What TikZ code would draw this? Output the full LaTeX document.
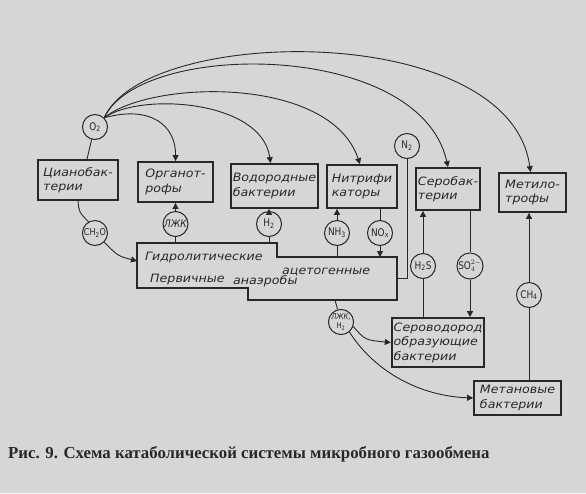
\documentclass[tikz,border=0pt]{standalone}
\usepackage{fontspec}
\usetikzlibrary{arrows.meta}
\newfontfamily\labfont[FakeStretch=1.1]{DejaVu Sans}
\newfontfamily\chemfont[FakeStretch=0.85]{DejaVu Sans}
\newfontfamily\capfont{Liberation Serif}
\definecolor{paper}{RGB}{214,214,214}
\definecolor{inkc}{RGB}{40,40,40}
\begin{document}
\begin{tikzpicture}[x=1pt,y=-1pt,
  ink/.style={draw=inkc, line width=0.9pt},
  box/.style={draw=inkc, line width=1.8pt, rectangle, inner sep=2pt, align=left,
    font=\labfont\itshape\fontsize{11.5}{14.5}\selectfont, text=inkc},
  gas/.style={draw=inkc, line width=1pt, circle, minimum size=25pt, inner sep=0pt,
    font=\chemfont\fontsize{10.5}{11}\selectfont, text=inkc, fill=paper},
  arr/.style={ink, -{Triangle[length=6pt,width=6pt]}},
  htext/.style={anchor=base west, inner sep=0pt, text=inkc,
    font=\labfont\itshape\fontsize{11.5}{14}\selectfont},
]
\path[fill=paper] (0,0) rectangle (586,493);

% boxes
\node[box, minimum width=80pt, minimum height=40pt] (cyano) at (78,180) {Цианобак-\\терии};
\node[box, minimum width=75pt, minimum height=40pt] (org) at (175.5,182) {Органот-\\рофы};
\node[box, minimum width=79pt, minimum height=44pt] (vod) at (274.5,186) {Водородные\\бактерии};
\node[box, minimum width=70pt, minimum height=43pt] (nitr) at (362,186.5) {Нитрифи\\каторы};
\node[box, minimum width=62pt, minimum height=42pt] (serob) at (448,189) {Серобак-\\терии};
\node[box, minimum width=67pt, minimum height=39pt] (metil) at (532.5,192.5) {Метило-\\трофы};
\node[box, minimum width=88pt, minimum height=49pt] (sero) at (438,342.5) {Сероводород\\образующие\\бактерии};
\node[box, minimum width=87pt, minimum height=34pt] (metan) at (517.5,398) {Метановые\\бактерии};

% hydrolytic polygon
\coordinate (hA) at (137,243);
\coordinate (hB) at (277,243);
\coordinate (hC) at (277,257);
\coordinate (hD) at (397,257);
\coordinate (hE) at (397,300);
\coordinate (hF) at (248,300);
\coordinate (hG) at (248,288);
\coordinate (hH) at (137,288);
\draw[draw=inkc, line width=1.8pt] (hA) -- (hB) -- (hC) -- (hD) -- (hE) -- (hF) -- (hG) -- (hH) -- cycle;
\node[htext] (t1) at (145,260) {Гидролитические};
\node[htext] (t2) at (282,274) {ацетогенные};
\node[htext] (t3) at (150,282) {Первичные};
\node[htext] (t4) at (233,284) {анаэробы};

\coordinate (hLZ) at (175.5,243);
\coordinate (hH2) at (269,243);
\coordinate (hNH3) at (337,257);
\coordinate (hNOx) at (380,257);
\coordinate (hN2) at (397,278);
\coordinate (hCH2O) at (137,261);
\coordinate (hLZH) at (335,300);

% gas circles
\node[gas] (O2) at (95,127) {O\textsubscript{2}};
\node[gas, font=\chemfont\fontsize{9.5}{10}\selectfont] (CH2O) at (95,233) {CH\textsubscript{2}O};
\node[gas] (LZ) at (175.5,224) {\itshape ЛЖК};
\node[gas] (H2a) at (269,224) {H\textsubscript{2}};
\node[gas] (NH3) at (337,233) {NH\textsubscript{3}};
\node[gas] (NOx) at (380,233) {NO\textsubscript{x}};
\node[gas] (N2) at (407,146) {N\textsubscript{2}};
\node[gas] (H2S) at (423,266) {H\textsubscript{2}S};
\node[gas] (SO4) at (470,266) {SO$_4^{2-}$};
\node[gas] (CH4) at (529,295) {CH\textsubscript{4}};
\node[gas, font=\chemfont\fontsize{8}{8.5}\selectfont, align=center] (LZH) at (341,322) {\itshape ЛЖК,\\H\textsubscript{2}};

% O2 links
\draw[ink] (O2.255) -- ([xshift=9pt]cyano.north);
\draw[arr] (O2.45) .. controls (150,105) and (176,125) .. (org.north);
\draw[arr] (O2.45) .. controls (140,92) and (262,100) .. ([xshift=-4pt]vod.north);
\draw[arr] (O2.45) .. controls (150,80) and (330,75) .. ([xshift=-2pt]nitr.north);
\draw[arr] (O2.45) .. controls (140,40) and (420,40) .. (serob.north);
\draw[arr] (O2.45) .. controls (145,25) and (510,20) .. ([xshift=-2pt]metil.north);

% cyano -> CH2O -> hydrolytic
\draw[ink] (cyano.south) .. controls (79,212) .. (CH2O.120);
\draw[arr] (CH2O.-45) .. controls (118,256) .. (hCH2O);

% hydrolytic links
\draw[ink] (hLZ) -- (LZ);
\draw[arr] (LZ) -- (LZ |- org.south);
\draw[ink] (hH2) -- (H2a);
\draw[arr] (H2a) -- (H2a |- vod.south);
\draw[ink] (hNH3) -- (NH3);
\draw[arr] (NH3) -- (NH3 |- nitr.south);
\draw[ink] (NOx |- nitr.south) -- (NOx);
\draw[arr] (NOx) -- (hNOx);
\draw[ink] (N2) -- (N2 |- hN2) -- (hN2);

% sulfur links
\draw[ink] (H2S |- sero.north) -- (H2S);
\draw[arr] (H2S) -- (H2S |- serob.south);
\draw[ink] (SO4 |- serob.south) -- (SO4);
\draw[arr] (SO4) -- (SO4 |- sero.north);

% methane links
\draw[ink] (CH4 |- metan.north) -- (CH4);
\draw[arr] (CH4) -- (CH4 |- metil.south);

% LZhK,H2 links
\draw[ink] (hLZH) -- (LZH);
\draw[arr] (LZH.-20) .. controls (365,340) .. (sero.west);
\draw[arr] (LZH.-50) .. controls (375,372) and (420,396) .. (metan.west);

% caption
\node[anchor=base west, inner sep=0pt, text=inkc, font=\capfont\bfseries\fontsize{16.8}{19}\selectfont] (cap) at (8,458) {Рис. 9. Схема катаболической системы микробного газообмена};
\end{tikzpicture}
\end{document}
